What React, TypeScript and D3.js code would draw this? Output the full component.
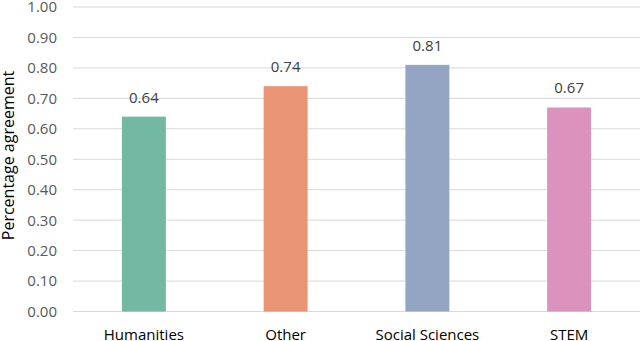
import React from "react";
import * as d3 from "d3";

const categories = ["Humanities", "Other", "Social Sciences", "STEM"];
const values = [0.64, 0.74, 0.81, 0.67];
const colors = ["#73B8A2", "#E99475", "#94A5C3", "#DB93BD"];
const yTicks = [0, 0.1, 0.2, 0.3, 0.4, 0.5, 0.6, 0.7, 0.8, 0.9, 1.0];
const yTitle = "Percentage agreement";

export default function App() {
  const W = 640, H = 341;
  const left = 73, right = 640, top = 7, bottom = 311.5;
  const x = d3.scaleBand<string>().domain(categories).range([left, right]).paddingInner(0.69).paddingOuter(0.345);
  const y = d3.scaleLinear().domain([0, 1]).range([bottom, top]);
  const font = "'Open Sans', sans-serif";
  return (
    <svg width={W} height={H} style={{ position: "absolute", left: 0, top: 0, background: "#fff" }} fontFamily={font}>
      {yTicks.map((t) => (
        <g key={t}>
          <line x1={left} x2={right} y1={y(t)} y2={y(t)} stroke="#D9D9D9" strokeWidth={1} />
          <text x={57} y={y(t)} dy="0.36em" textAnchor="end" fontSize={15} fill="#595959">
            {t.toFixed(2)}
          </text>
        </g>
      ))}
      {categories.map((c, i) => (
        <g key={c}>
          <rect x={x(c)} y={y(values[i])} width={x.bandwidth()} height={y(0) - y(values[i])} fill={colors[i]} />
          <text x={(x(c) as number) + x.bandwidth() / 2} y={y(values[i]) - 14} textAnchor="middle" fontSize={15} fill="#404040">
            {values[i].toFixed(2)}
          </text>
          <text x={(x(c) as number) + x.bandwidth() / 2} y={340} textAnchor="middle" fontSize={15} fill="#000">
            {c}
          </text>
        </g>
      ))}
      <text transform={`translate(14,155.5) rotate(-90)`} textAnchor="middle" fontSize={16} fill="#000">
        {yTitle}
      </text>
    </svg>
  );
}
